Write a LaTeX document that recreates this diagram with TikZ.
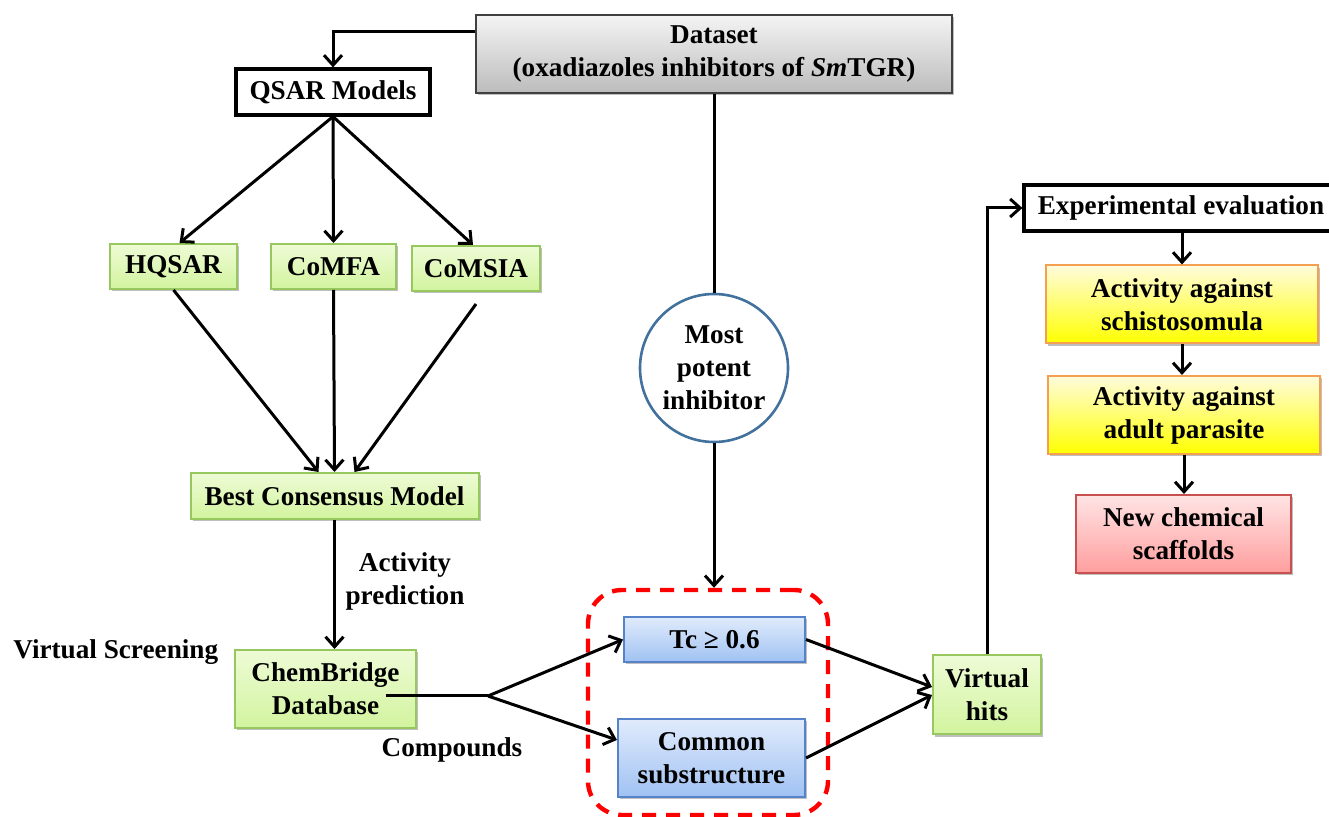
\documentclass[tikz,border=0pt]{standalone}
\usepackage{fontspec}
\setmainfont{Liberation Serif}
\usetikzlibrary{arrows.meta,shadows}

\definecolor{greytop}{RGB}{244,244,244}
\definecolor{greybot}{RGB}{188,188,188}
\definecolor{greentop}{RGB}{238,251,214}
\definecolor{greenbot}{RGB}{210,244,158}
\definecolor{greenline}{RGB}{150,200,95}
\definecolor{bluetop}{RGB}{224,235,252}
\definecolor{bluebot}{RGB}{160,194,242}
\definecolor{blueline}{RGB}{85,130,200}
\definecolor{yellowtop}{RGB}{255,252,220}
\definecolor{yellowbot}{RGB}{255,255,0}
\definecolor{orangeline}{RGB}{245,160,80}
\definecolor{pinktop}{RGB}{255,228,228}
\definecolor{pinkbot}{RGB}{255,158,158}
\definecolor{redline}{RGB}{200,80,78}
\definecolor{circline}{RGB}{65,113,156}

\tikzset{
  boxshadow/.style={drop shadow={shadow xshift=1.2pt, shadow yshift=-1.2pt, opacity=0.25, fill=black}},
  plainbox/.style={shape=rectangle, draw=black, line width=1.6pt, fill=white},
  greybox/.style={shape=rectangle, draw=black!75, line width=0.9pt, top color=greytop, bottom color=greybot, boxshadow},
  greenbox/.style={shape=rectangle, draw=greenline, line width=1pt, top color=greentop, bottom color=greenbot, boxshadow},
  bluebox/.style={shape=rectangle, draw=blueline, line width=1pt, top color=bluetop, bottom color=bluebot, boxshadow},
  yellowbox/.style={shape=rectangle, draw=orangeline, line width=1pt, top color=yellowtop, bottom color=yellowbot, boxshadow},
  pinkbox/.style={shape=rectangle, draw=redline, line width=1pt, top color=pinktop, bottom color=pinkbot, boxshadow},
  screenbox/.style={shape=rectangle, draw=red, line width=2.2pt, dash pattern=on 7pt off 5pt, rounded corners=17pt},
  line/.style={draw=black, line width=1.5pt},
  link/.style={line, ->}
}

\begin{document}
\begin{tikzpicture}[x=0.5pt, y=-0.5pt,
    >={Straight Barb[length=5pt, width=9pt]},
    every node/.style={font=\fontsize{13.6}{16.5}\selectfont\bfseries, align=center, inner sep=0pt}]
  \useasboundingbox (0,0) rectangle (1329,817);

  % nodes
  \node[greybox, minimum width=238pt, minimum height=39pt] at (714,54)
  (data) {Dataset\\(oxadiazoles inhibitors of \textit{Sm}TGR)};
  \node[plainbox, minimum width=97pt, minimum height=23pt] at (333,92)
  (qsar) {QSAR Models};
  \node[greenbox, minimum width=63.5pt, minimum height=22.5pt] at (173.5,266.5)
  (hqsar) {HQSAR};
  \node[greenbox, minimum width=62.5pt, minimum height=22.5pt] at (333.5,266.5)
  (comfa) {CoMFA};
  \node[greenbox, minimum width=64pt, minimum height=22.5pt] at (476,268.5)
  (comsia) {CoMSIA};
  \node[greenbox, minimum width=144pt, minimum height=23pt] at (334.5,496)
  (best) {Best Consensus Model};
  \node[greenbox, minimum width=90.5pt, minimum height=39pt] at (325.5,689)
  (chem) {ChemBridge\\Database};
  \node[circle, draw=circline, line width=1.3pt, fill=white, minimum size=74pt] at (714,368)
  (potent) {Most\\potent\\inhibitor};
  \node[screenbox, minimum width=120pt, minimum height=112.5pt] at (708,702.5)
  (screen) {};
  \node[bluebox, minimum width=90.5pt, minimum height=22.5pt] at (714.5,639.5)
  (tc) {Tc ≥ 0.6};
  \node[bluebox, minimum width=93.5pt, minimum height=39pt] at (711.5,758)
  (common) {Common\\substructure};
  \node[greenbox, minimum width=54pt, minimum height=39.5pt] at (987,695)
  (hits) {Virtual\\hits};
  \node[plainbox, minimum width=157pt, minimum height=23pt] at (1181,208)
  (expt) {Experimental evaluation};
  \node[yellowbox, minimum width=136pt, minimum height=39pt] at (1182,304.5)
  (schisto) {Activity against\\schistosomula};
  \node[yellowbox, minimum width=136pt, minimum height=39pt] at (1184,415)
  (adult) {Activity against\\adult parasite};
  \node[pinkbox, minimum width=107.5pt, minimum height=39pt] at (1183.5,534)
  (scaffold) {New chemical\\scaffolds};

  % labels
  \node[anchor=west] at (13,652) (vscreen) {Virtual Screening};
  \node at (405,581) (predict) {Activity\\prediction};
  \node at (452,750) (compounds) {Compounds};
  \coordinate (split) at (488,696);

  % arcs
  \draw[link] ([yshift=11pt]data.west) -| (qsar.north);
  \draw[link] (qsar.south) -- ([xshift=3pt]hqsar.north);
  \draw[link] (qsar.south) -- (comfa.north);
  \draw[link] (qsar.south) -- ([xshift=-1.5pt]comsia.north);
  \draw[link] (hqsar.south) -- ([xshift=-8pt]best.north);
  \draw[link] (comfa.south) -- (best.north);
  \draw[link] ([yshift=-6pt]comsia.south) -- ([xshift=10pt]best.north);
  \draw[link] (best.south) -- (best.south |- chem.north);
  \draw[line] ([xshift=-15.5pt, yshift=-3.5pt]chem.east) -- (split);
  \draw[link] (split) -- (tc.west);
  \draw[link] (split) -- ([yshift=9pt]common.west);
  \draw[line] (data.south) -- (potent.north);
  \draw[link] (potent.south) -- (potent.south |- screen.north);
  \draw[link] (tc.east) -- ([yshift=4pt]hits.west);
  \draw[link] (common.east) -- (hits.west);
  \draw[link] (hits.north) |- (expt.west);
  \draw[link] (schisto.north |- expt.south) -- (schisto.north);
  \draw[link] (schisto.south) -- (schisto.south |- adult.north);
  \draw[link] (adult.south) -- (adult.south |- scaffold.north);
\end{tikzpicture}
\end{document}
